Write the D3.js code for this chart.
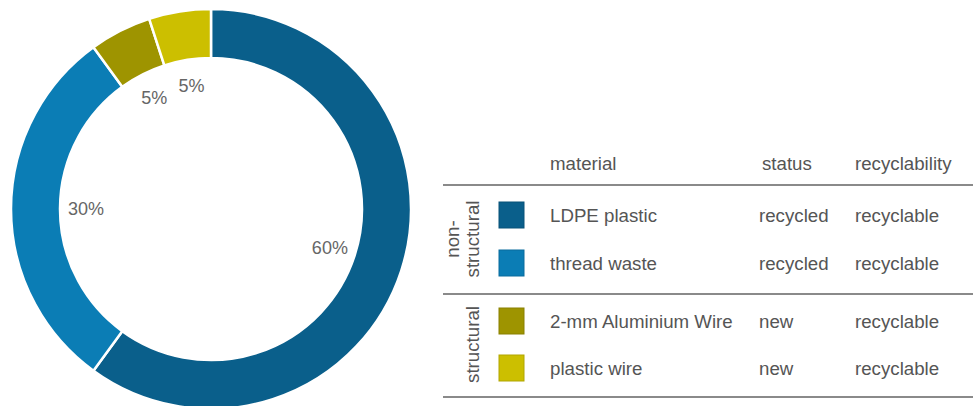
<!DOCTYPE html>
<html>
<head>
<meta charset="utf-8">
<title></title>
<script src="https://cdnjs.cloudflare.com/ajax/libs/d3/7.8.5/d3.min.js"></script>
<style>
  body { margin: 0; background-color: white }
  svg text { font-family: "Liberation Sans", Arial, sans-serif; fill: #555 }
</style>
</head>
<body>
<div id="chart"></div>
<script>
// data
var materials = ["LDPE plastic", "thread waste", "2-mm Aluminium Wire", "plastic wire"];
var shares = [60, 30, 5, 5];
var statuses = ["recycled", "recycled", "new", "new"];
var recyclability = ["recyclable", "recyclable", "recyclable", "recyclable"];
var groups = ["non-structural", "non-structural", "structural", "structural"];
var colors = ["#0a5f8b", "#0b7db5", "#9e9400", "#ccbf00"];
var headers = ["material", "status", "recyclability"];

var W = 973, H = 406;
var svg = d3.select("#chart").append("svg")
    .attr("width", W)
    .attr("height", H);

// donut
var cx = 211, cy = 209, rOut = 200, rIn = 151;
var pie = d3.pie().sort(null).value(function(d){ return d; });
var arc = d3.arc().innerRadius(rIn).outerRadius(rOut);
var labelArc = d3.arc().innerRadius(125).outerRadius(125);
var color = d3.scaleOrdinal().domain(materials).range(colors);

var g = svg.append("g").attr("transform", "translate(" + cx + "," + cy + ")");
var arcs = pie(shares);
arcs.forEach(function(a, i){ a.name = materials[i]; });

g.selectAll("path").data(arcs).enter().append("path")
    .attr("d", arc)
    .attr("fill", function(d){ return color(d.name); })
    .attr("stroke", "white")
    .attr("stroke-width", 2.5);

g.selectAll("text").data(arcs).enter().append("text")
    .attr("transform", function(d){ return "translate(" + labelArc.centroid(d) + ")"; })
    .attr("text-anchor", "middle")
    .attr("dy", "0.35em")
    .style("font-size", "18px")
    .style("fill", "#666")
    .text(function(d){ return d.value + "%"; });

// table
var t = svg.append("g");
var fs = "18.7px";
var colX = [550, 759, 855];
var rowsY = [215, 263, 321, 368];
var y = function(i){ return rowsY[i]; };

t.selectAll("text.head").data(headers).enter().append("text")
    .attr("class", "head")
    .attr("x", function(d, i){ return colX[i] + (i == 1 ? 3 : 0); })
    .attr("y", 163)
    .attr("dy", "0.35em")
    .style("font-size", fs)
    .text(function(d){ return d; });

[185, 294, 397].forEach(function(ly){
  t.append("line")
    .attr("x1", 443).attr("x2", W)
    .attr("y1", ly).attr("y2", ly)
    .attr("stroke", "#8a8a8a")
    .attr("stroke-width", 2);
});

var rows = t.selectAll("g.row").data(materials).enter().append("g").attr("class", "row");

rows.append("rect")
    .attr("x", 499)
    .attr("y", function(d, i){ return y(i) - 13; })
    .attr("width", 25).attr("height", 26)
    .attr("fill", function(d){ return color(d); })
    .attr("stroke", function(d){ return d3.color(color(d)).darker(0.4); })
    .attr("stroke-width", 1);

rows.append("text")
    .attr("x", colX[0]).attr("y", function(d, i){ return y(i); })
    .attr("dy", "0.35em")
    .style("font-size", fs)
    .text(function(d){ return d; });

rows.append("text")
    .attr("x", colX[1]).attr("y", function(d, i){ return y(i); })
    .attr("dy", "0.35em")
    .style("font-size", fs)
    .text(function(d, i){ return statuses[i]; });

rows.append("text")
    .attr("x", colX[2]).attr("y", function(d, i){ return y(i); })
    .attr("dy", "0.35em")
    .style("font-size", fs)
    .text(function(d, i){ return recyclability[i]; });

// group labels, rotated
var groupNames = Array.from(new Set(groups));
groupNames.forEach(function(gn){
  var idx = [];
  groups.forEach(function(g2, i){ if (g2 === gn) idx.push(i); });
  var my = (y(idx[0]) + y(idx[idx.length - 1])) / 2;
  var lines = gn === "non-structural" ? ["non-", "structural"] : ["structural"];
  var gx = 472;
  var tx = t.append("text")
    .attr("transform", "translate(" + gx + "," + my + ") rotate(-90)")
    .attr("text-anchor", "middle")
    .style("font-size", fs);
  lines.forEach(function(l, k){
    tx.append("tspan")
      .attr("x", 0)
      .attr("y", (k - (lines.length - 1)) * 20)
      .attr("dy", "0.35em")
      .text(l);
  });
});
</script>
</body>
</html>
